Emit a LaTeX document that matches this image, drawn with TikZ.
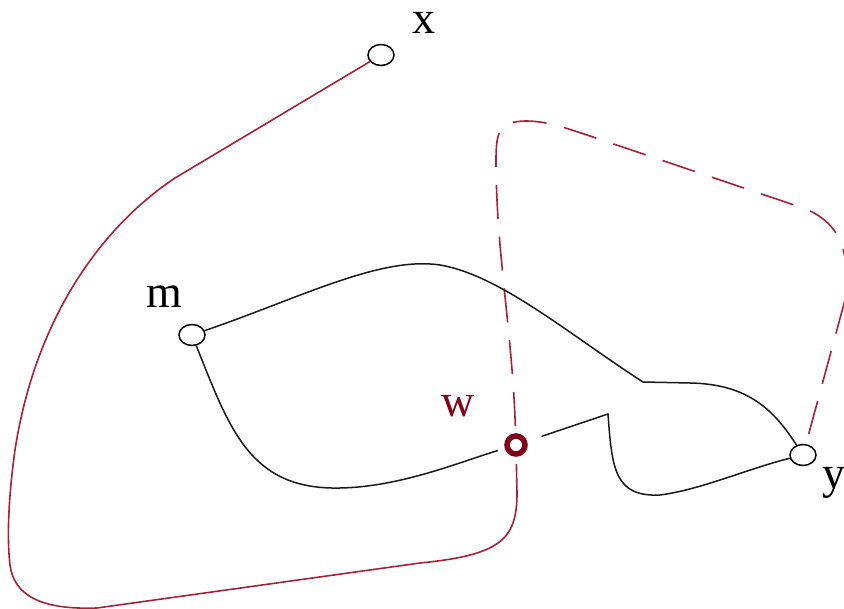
\documentclass[tikz,border=0pt]{standalone}
\usepackage{fontspec}
\setmainfont{Liberation Serif}
\usetikzlibrary{shapes.geometric}
\definecolor{wred}{RGB}{165,35,55}
\definecolor{wdark}{RGB}{128,0,24}
\begin{document}
\begin{tikzpicture}[x=1pt,y=-1pt,
  vertex/.style={ellipse,draw=black,fill=white,line width=1.5pt,minimum width=26pt,minimum height=21pt,inner sep=0pt},
  wvertex/.style={circle,draw=wdark,fill=white,line width=5.5pt,minimum size=18pt,inner sep=0pt,outer sep=10pt},
  lbl/.style={font=\fontsize{46}{50}\selectfont,inner sep=0pt,anchor=base},
  blk/.style={draw=black!90,line width=1.5pt},
  redsolid/.style={draw=wred,line width=1.6pt},
  reddash/.style={draw=wred,line width=1.6pt,dash pattern=on 34pt off 18pt}]
\useasboundingbox (0,0) rectangle (844,609);

% vertices
\node[vertex] (x) at (381,55) {};
\node[vertex] (m) at (192,335) {};
\node[vertex] (y) at (803,455) {};
\node[wvertex] (w) at (516,445) {};

% labels
\node[lbl] (lx) at (424,34) {x};
\node[lbl] (lm) at (164,308) {m};
\node[lbl,text=wdark] (lw) at (458,417) {w};
\node[lbl] (ly) at (834,489) {y};

% red solid connector x -> w
\draw[redsolid] (x) -- (175,178) .. controls (100,228) and (35,320) .. (15,450)
  .. controls (8,500) and (7,540) .. (10,565)
  .. controls (14,595) and (40,610) .. (97,608)
  -- (420,563) .. controls (500,555) and (517,540) .. (517,493) -- (w);

% red dashed connector w -> y
\draw[reddash] (w) .. controls (512,330) and (496,250) .. (496,160)
  .. controls (496,130) and (500,122) .. (525,121)
  .. controls (545,121) and (560,126) .. (590,136)
  -- (803,208) .. controls (835,220) and (852,245) .. (845,300) -- (y);

% black connectors
\draw[blk] (m) .. controls (300,298) and (380,256) .. (440,265)
  .. controls (500,275) and (570,335) .. (643,382)
  -- (690,383) .. controls (750,384) and (775,412) .. (y);
\draw[blk] (m) .. controls (230,430) and (250,490) .. (340,488)
  .. controls (400,487) and (460,462) .. (w);
\draw[blk,shorten <=8pt] (w) -- (608,414) .. controls (612,470) and (615,497) .. (660,495)
  .. controls (700,490) and (750,468) .. (y);
\end{tikzpicture}
\end{document}
